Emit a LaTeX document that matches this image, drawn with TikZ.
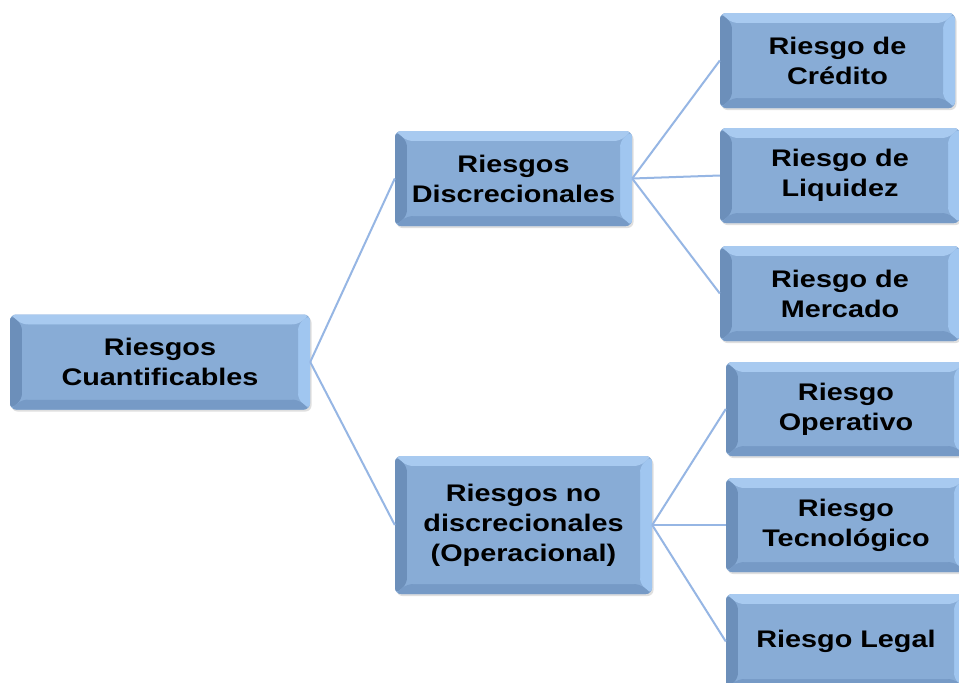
\documentclass[tikz,border=0pt]{standalone}
\usepackage{fontspec}
\setmainfont[FakeStretch=1.2]{Liberation Sans}
\usetikzlibrary{calc,shadows}
\definecolor{face}{RGB}{136,172,214}
\definecolor{bevtop}{RGB}{168,202,240}
\definecolor{bevright}{RGB}{160,198,240}
\definecolor{bevleft}{RGB}{108,143,186}
\definecolor{bevbot}{RGB}{118,154,198}
\definecolor{conncol}{RGB}{150,182,228}
\tikzset{
  bev/.style={rounded corners=6pt, fill=face, draw=none,
    drop shadow={opacity=0.25, shadow xshift=1.5pt, shadow yshift=-2pt},
    font=\bfseries\fontsize{24}{30}\selectfont, align=center, inner sep=0pt,
    path picture={
      \coordinate (a) at (path picture bounding box.south west);
      \coordinate (b) at (path picture bounding box.north east);
      \fill[bevtop] (a|-b) -- (b) -- ($(b)+(-12pt,-10pt)$) -- ($(a|-b)+(12pt,-10pt)$) -- cycle;
      \fill[bevleft] (a) -- (a|-b) -- ($(a|-b)+(12pt,-10pt)$) -- ($(a)+(12pt,10pt)$) -- cycle;
      \fill[bevright] (b) -- (b|-a) -- ($(b|-a)+(-12pt,10pt)$) -- ($(b)+(-12pt,-10pt)$) -- cycle;
      \fill[bevbot] (a) -- (b|-a) -- ($(b|-a)+(-12pt,10pt)$) -- ($(a)+(12pt,10pt)$) -- cycle;
      \fill[face] ($(a)+(12pt,10pt)$) rectangle ($(b)+(-12pt,-10pt)$);
    }},
  conn/.style={draw=conncol, line width=2pt}
}
\begin{document}
\begin{tikzpicture}[x=1pt,y=-1pt]
\useasboundingbox (0,0) rectangle (959,683);
\clip (0,0) rectangle (959,683);
\fill[white] (0,0) rectangle (959,683);
\node[bev, minimum width=300pt, minimum height=95pt] (root) at (160,362) {Riesgos\\Cuantificables};
\node[bev, minimum width=237pt, minimum height=95pt] (dis) at (513.5,178.5) {Riesgos\\Discrecionales};
\node[bev, minimum width=257pt, minimum height=138pt] (nodis) at (523.5,525) {Riesgos no\\discrecionales\\(Operacional)};
\node[bev, minimum width=235pt, minimum height=95pt] (cre) at (837.5,60.5) {Riesgo de\\Crédito};
\node[bev, minimum width=240pt, minimum height=95pt] (liq) at (840,175.5) {Riesgo de\\Liquidez};
\node[bev, minimum width=240pt, minimum height=95pt] (mer) at (840,293.5) {Riesgo de\\Mercado};
\node[bev, minimum width=240pt, minimum height=94pt] (ope) at (846,409) {Riesgo\\Operativo};
\node[bev, minimum width=240pt, minimum height=94pt] (tec) at (846,525) {Riesgo\\Tecnológico};
\node[bev, minimum width=240pt, minimum height=95pt] (leg) at (846,641.5) {Riesgo Legal};
\draw[conn] (root.east) -- (dis.west);
\draw[conn] (root.east) -- (nodis.west);
\draw[conn] (dis.east) -- (cre.west);
\draw[conn] (dis.east) -- (liq.west);
\draw[conn] (dis.east) -- (mer.west);
\draw[conn] (nodis.east) -- (ope.west);
\draw[conn] (nodis.east) -- (tec.west);
\draw[conn] (nodis.east) -- (leg.west);
\end{tikzpicture}
\end{document}
